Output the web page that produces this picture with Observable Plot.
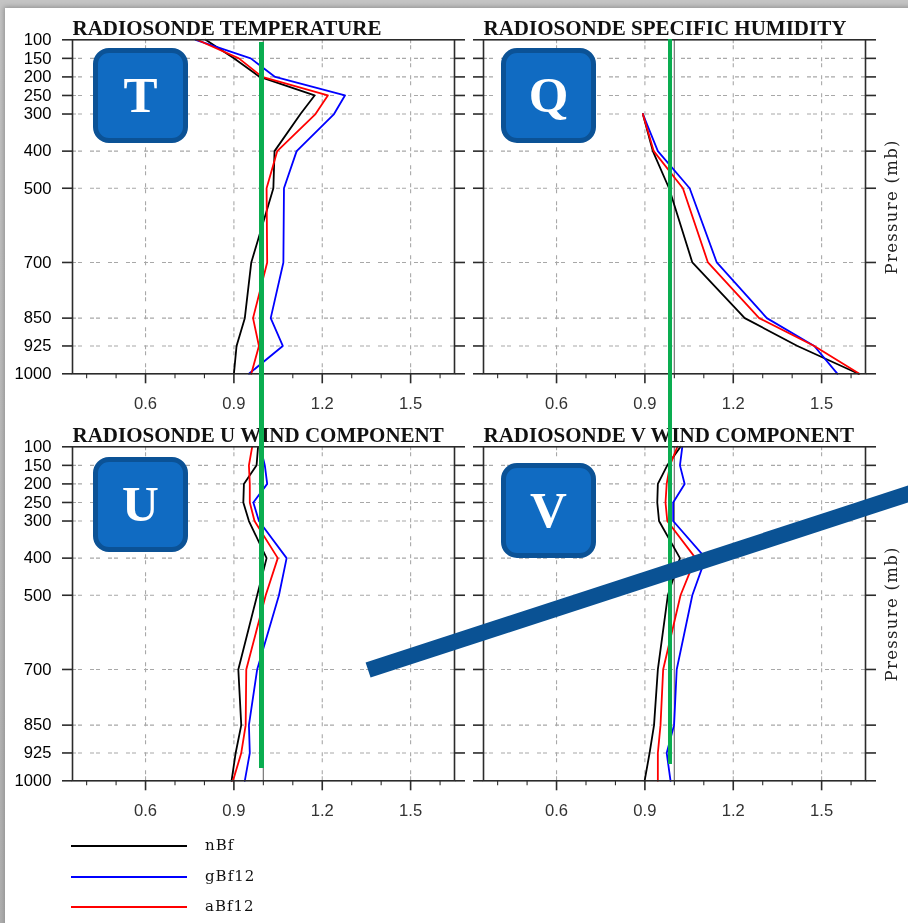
<!DOCTYPE html>
<html><head><meta charset="utf-8">
<script src="https://cdn.jsdelivr.net/npm/d3@7"></script>
<script src="https://cdn.jsdelivr.net/npm/@observablehq/plot@0.6"></script>
<style>
html,body{margin:0;padding:0;background:#b9b9b9;overflow:hidden}
#page{position:relative;width:908px;height:923px;overflow:hidden;background:linear-gradient(#c4c4c4,#b0b0b0);filter:blur(0.6px)}
#card{position:absolute;left:5px;top:8px;width:920px;height:930px;background:#fff;box-shadow:0 0 5px 1px #8f8f8f}
#page svg{position:absolute;background:transparent;overflow:visible}
.badge{position:absolute;width:85px;height:85px;background:#106bc2;border:5px solid #0b5296;border-radius:16px;color:#fff;font:700 51px/85px "Liberation Serif",serif;text-align:center}
.green{position:absolute;background:#0aad50}
#slash{position:absolute;left:368px;top:662.2px;width:640px;height:15.5px;background:#0a5294;transform-origin:0 50%;transform:rotate(-18.05deg)}
.lg{position:absolute;left:71px;width:116px;height:2px}
.lt{position:absolute;left:205px;font:15px/16px "DejaVu Serif",serif;letter-spacing:1px;color:#111}
</style></head>
<body><div id="page"><div id="card"></div></div>
<script>
const levels=[100,150,200,250,300,400,500,700,850,925,1000];
const xMajor=[0.6,0.9,1.2,1.5];
const xMinor=[0.4,0.5,0.7,0.8,1.0,1.1,1.3,1.4,1.6];
const seriesNames=["nBf","gBf12","aBf12"];
const seriesColors=["#000000","#0000ff","#ff0000"];

const tempN=[0.804,0.900,0.988,1.174,1.126,1.038,1.034,0.959,0.937,0.909,0.900];
const tempG=[0.770,0.957,1.040,1.277,1.240,1.113,1.070,1.068,1.025,1.066,0.951];
const tempA=[0.775,0.917,0.996,1.219,1.177,1.047,1.011,1.013,0.965,0.985,0.959];

const humN=[null,null,null,null,0.893,0.927,0.982,1.061,1.239,1.418,1.625];
const humG=[null,null,null,null,0.893,0.944,1.052,1.144,1.314,1.475,1.554];
const humA=[null,null,null,null,0.893,0.930,1.029,1.114,1.288,1.475,1.628];

const uN=[0.982,0.977,0.934,0.932,0.951,1.011,0.979,0.915,0.925,0.906,0.892];
const uG=[0.990,1.005,1.013,0.966,0.985,1.079,1.053,0.979,0.951,0.954,0.937];
const uA=[0.962,0.951,0.954,0.954,0.970,1.049,1.008,0.942,0.940,0.925,0.897];

const vN=[1.021,0.976,0.944,0.942,0.948,1.019,0.978,0.944,0.931,0.916,0.899];
const vG=[1.027,1.019,1.035,0.996,0.996,1.106,1.061,1.008,0.999,0.974,0.987];
const vA=[1.010,0.985,0.974,0.970,0.976,1.072,1.021,0.962,0.953,0.944,0.944];

const panels=[
 {title:"RADIOSONDE TEMPERATURE",letter:"T",vals:[tempN,tempG,tempA],col:0,row:0},
 {title:"RADIOSONDE SPECIFIC HUMIDITY",letter:"Q",vals:[humN,humG,humA],col:1,row:0},
 {title:"RADIOSONDE U WIND COMPONENT",letter:"U",vals:[uN,uG,uA],col:0,row:1},
 {title:"RADIOSONDE V WIND COMPONENT",letter:"V",vals:[vN,vG,vA],col:1,row:1}
];
const page=document.getElementById("page");
const dash="4 2 4 8";
const ink="#2b2b2b";
const W=498,H=420,ML=72,MR=44,MT=39.3,MB=H-373.3;
const noLabel=()=>"";

function drawPanel(p){
  const rows=[];
  p.vals.forEach((arr,i)=>arr.forEach((v,j)=>{if(v!==null)rows.push({level:levels[j],value:v,series:seriesNames[i]});}));
  const left=p.col===0;
  const marks=[
    Plot.gridX(xMajor,{stroke:"#a8a8a8",strokeOpacity:1,strokeDasharray:dash,strokeWidth:1.1}),
    Plot.gridY(levels.slice(1,-1),{stroke:"#a8a8a8",strokeOpacity:1,strokeDasharray:dash,strokeWidth:1.1}),
    Plot.ruleX([1],{stroke:"#808080",strokeWidth:1.3}),
    Plot.line(rows,{x:"value",y:"level",z:"series",stroke:"series",strokeWidth:1.8,curve:"linear"}),
    Plot.frame({stroke:ink,strokeWidth:1.6}),
    Plot.axisX({ticks:xMajor,tickSize:10,tickPadding:13,tickFormat:d=>d.toFixed(1),label:null,fontSize:16.6,stroke:ink,strokeWidth:1.6,color:"#333"}),
    Plot.axisX({ticks:xMinor,tickSize:5,tickFormat:noLabel,label:null,stroke:ink,strokeWidth:1.1}),
    Plot.axisY({anchor:"left",ticks:levels,tickSize:10,tickPadding:11,tickFormat:left?(d=>String(d)):noLabel,label:null,fontSize:16.6,stroke:ink,strokeWidth:1.6}),
    Plot.axisY({anchor:"right",ticks:levels,tickSize:10,tickFormat:noLabel,label:null,stroke:ink,strokeWidth:1.6}),
    Plot.text([p.title],{frameAnchor:"top-left",lineAnchor:"bottom",textAnchor:"start",dy:-5,fontSize:21,fontWeight:700,fontFamily:"Liberation Serif",fill:"#111"})
  ];
  if(!left) marks.push(Plot.text(["Pressure (mb)"],{frameAnchor:"right",textAnchor:"middle",rotate:-90,dx:26,fontSize:16.5,fontFamily:"DejaVu Serif",fill:"#222"}));
  const svg=Plot.plot({
    width:W,height:H,marginLeft:ML,marginRight:MR,marginTop:MT,marginBottom:MB,
    style:{fontFamily:"Liberation Sans",background:"transparent",overflow:"visible"},
    x:{domain:[0.352,1.649],label:null,axis:null},
    y:{domain:[100,1000],reverse:true,label:null,axis:null},
    color:{domain:seriesNames,range:seriesColors},
    marks
  });
  svg.style.left=(p.col*411)+"px";
  svg.style.top=(p.row*407)+"px";
  svg.querySelectorAll("text").forEach(t=>{if(t.textContent==="Pressure (mb)")t.style.letterSpacing="1.3px";});
  page.appendChild(svg);
}
panels.forEach(drawPanel);

function el(cls,css,text){const d=document.createElement("div");d.className=cls;Object.assign(d.style,css);if(text)d.textContent=text;page.appendChild(d);return d;}
el("badge",{left:"93px",top:"48px"},"T");
el("badge",{left:"501px",top:"48px"},"Q");
el("badge",{left:"93px",top:"457px"},"U");
el("badge",{left:"501px",top:"463px"},"V");
el("green",{left:"259px",top:"42px",width:"5.4px",height:"726px"});
el("green",{left:"668px",top:"39px",width:"4.2px",height:"725px"});
el("",{},"").id="slash";

[[845,0],[876,1],[906.3,2]].forEach(([y,i])=>{
  el("lg",{top:y+"px",background:seriesColors[i]});
  el("lt",{top:(y-8)+"px"},seriesNames[i]);
});
</script></body></html>
